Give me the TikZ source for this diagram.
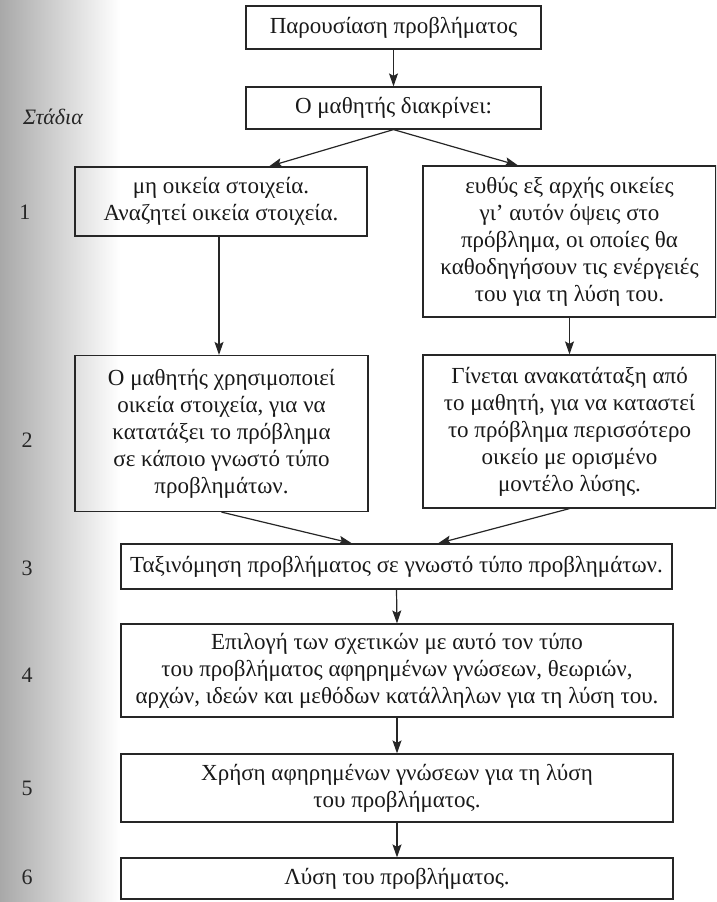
\documentclass[tikz,border=0pt]{standalone}
\usepackage{fontspec}
\setmainfont{Liberation Serif}
\usetikzlibrary{arrows.meta}
\begin{document}
\begin{tikzpicture}[x=1pt,y=-1pt,
  box/.style={draw=black!85, line width=1.2pt, align=center, inner sep=0pt,
    text=black!90, font=\fontsize{23}{27}\selectfont},
  arr/.style={draw=black!85, line width=1.2pt,
    -{Stealth[length=13pt,width=9pt,inset=2.5pt]}},
  stage/.style={text=black!85, font=\fontsize{22}{25}\selectfont, inner sep=0pt}]
\useasboundingbox (0,0) rectangle (716,902);
\clip (0,0) rectangle (716,902);
\shade[left color=black!34, right color=white] (0,0) rectangle (120,902);

\node[box, minimum width=295pt, minimum height=43pt] (a) at (393.5,27.5) {Παρουσίαση προβλήματος};
\node[box, minimum width=295pt, minimum height=42pt] (b) at (393.5,108) {Ο μαθητής διακρίνει:};
\node[box, minimum width=292pt, minimum height=69pt] (c1) at (221,201.5) {μη οικεία στοιχεία.\\Αναζητεί οικεία στοιχεία.};
\node[box, minimum width=293pt, minimum height=151pt] (c2) at (569.5,241.5) {ευθύς εξ αρχής οικείες\\γι’ αυτόν όψεις στο\\πρόβλημα, οι οποίες θα\\καθοδηγήσουν τις ενέργειές\\του για τη λύση του.};
\node[box, minimum width=293pt, minimum height=156pt] (d1) at (221.5,433.5) {Ο μαθητής χρησιμοποιεί\\οικεία στοιχεία, για να\\κατατάξει το πρόβλημα\\σε κάποιο γνωστό τύπο\\προβλημάτων.};
\node[box, minimum width=293pt, minimum height=153pt] (d2) at (569.5,431.5) {Γίνεται ανακατάταξη από\\το μαθητή, για να καταστεί\\το πρόβλημα περισσότερο\\οικείο με ορισμένο\\μοντέλο λύσης.};
\node[box, minimum width=551pt, minimum height=45pt] (e) at (396.5,566.5) {Ταξινόμηση προβλήματος σε γνωστό τύπο προβλημάτων.};
\node[box, minimum width=552pt, minimum height=93pt] (f) at (397,670.5) {Επιλογή των σχετικών με αυτό τον τύπο\\του προβλήματος αφηρημένων γνώσεων, θεωριών,\\αρχών, ιδεών και μεθόδων κατάλληλων για τη λύση του.};
\node[box, minimum width=552pt, minimum height=68pt] (g) at (397,788) {Χρήση αφηρημένων γνώσεων για τη λύση\\του προβλήματος.};
\node[box, minimum width=552pt, minimum height=41pt] (h) at (397,878.5) {Λύση του προβλήματος.};

\draw[arr] (a.south) -- (b.north);
\draw[arr] (b.south) -- ([xshift=48pt]c1.north);
\draw[arr] (b.south) -- ([xshift=-51.5pt]c2.north);
\draw[arr] ([xshift=-2pt]c1.south) -- ([xshift=-2.5pt]d1.north);
\draw[arr] (c2.south) -- (d2.north);
\draw[arr] (d1.south) -- ([xshift=-44.5pt]e.north);
\draw[arr] (d2.south) -- ([xshift=41.5pt]e.north);
\draw[arr] (e.south) -- (f.north);
\draw[arr] (f.south) -- (g.north);
\draw[arr] (g.south) -- (h.north);

\node[stage] (s0) at (53,117) {\itshape Στάδια};
\node[stage] (s1) at (25,212) {1};
\node[stage] (s2) at (27,440) {2};
\node[stage] (s3) at (27,568) {3};
\node[stage] (s4) at (27,675) {4};
\node[stage] (s5) at (27,788) {5};
\node[stage] (s6) at (27,877) {6};
\end{tikzpicture}
\end{document}
